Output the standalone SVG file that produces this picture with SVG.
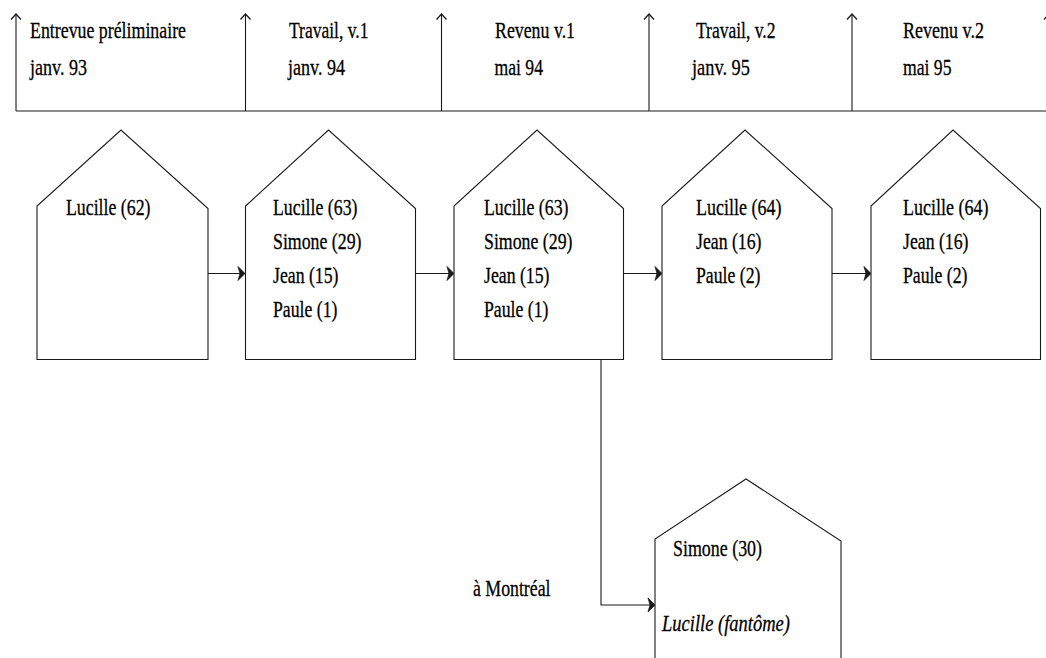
<svg xmlns="http://www.w3.org/2000/svg" width="1046" height="658" viewBox="0 0 1046 658">
<style>
.ln{fill:none;stroke:#1a1a1a;stroke-width:1.1}
.hs{fill:#fff;stroke:#1a1a1a;stroke-width:1.1}
text{font-family:'Liberation Serif','Times New Roman','DejaVu Serif',serif;font-size:24px;fill:#000;stroke:#000;stroke-width:0.3}
.it{font-style:italic}
</style>
<defs>
<marker id="open" viewBox="-10 -10 20 20" refX="0" refY="0" markerWidth="20" markerHeight="20" markerUnits="userSpaceOnUse" orient="auto">
<path d="M-5.5,-5 L0,0 L-5.5,5" fill="none" stroke="#1a1a1a" stroke-width="1.3"/>
</marker>
<marker id="solid" viewBox="-10 -10 20 20" refX="0" refY="0" markerWidth="20" markerHeight="20" markerUnits="userSpaceOnUse" orient="auto">
<path d="M-7,-7 L0,0 L-7,7 L-5,0 z" fill="#1a1a1a" stroke="#1a1a1a" stroke-width="0.8" stroke-linejoin="miter"/>
</marker>
</defs>
<rect width="1046" height="658" fill="#fff"/>
<g id="timeline">
<line class="ln" x1="16" y1="111" x2="1046" y2="111"/>
<line class="ln" x1="16" y1="111" x2="16" y2="14" marker-end="url(#open)"/>
<line class="ln" x1="245.5" y1="111" x2="245.5" y2="14" marker-end="url(#open)"/>
<line class="ln" x1="441.5" y1="111" x2="441.5" y2="14" marker-end="url(#open)"/>
<line class="ln" x1="649" y1="111" x2="649" y2="14" marker-end="url(#open)"/>
<line class="ln" x1="852" y1="111" x2="852" y2="14" marker-end="url(#open)"/>
<line class="ln" x1="1049" y1="111" x2="1049" y2="14" marker-end="url(#open)"/>
<text x="30" y="38" textLength="156" lengthAdjust="spacingAndGlyphs">Entrevue préliminaire</text>
<text x="30" y="75" textLength="57" lengthAdjust="spacingAndGlyphs">janv. 93</text>
<text x="289" y="38" textLength="79.5" lengthAdjust="spacingAndGlyphs">Travail, v.1</text>
<text x="288" y="75" textLength="57" lengthAdjust="spacingAndGlyphs">janv. 94</text>
<text x="495" y="38" textLength="80" lengthAdjust="spacingAndGlyphs">Revenu v.1</text>
<text x="494.5" y="75" textLength="48.5" lengthAdjust="spacingAndGlyphs">mai 94</text>
<text x="696" y="38" textLength="79.5" lengthAdjust="spacingAndGlyphs">Travail, v.2</text>
<text x="692" y="75" textLength="58" lengthAdjust="spacingAndGlyphs">janv. 95</text>
<text x="903" y="38" textLength="81" lengthAdjust="spacingAndGlyphs">Revenu v.2</text>
<text x="903" y="75" textLength="48.5" lengthAdjust="spacingAndGlyphs">mai 95</text>
</g>
<g id="connectors">
<line class="ln" x1="208" y1="273.5" x2="245" y2="273.5" marker-end="url(#solid)"/>
<line class="ln" x1="416" y1="273.5" x2="454" y2="273.5" marker-end="url(#solid)"/>
<line class="ln" x1="623" y1="273.5" x2="662" y2="273.5" marker-end="url(#solid)"/>
<line class="ln" x1="832" y1="273.5" x2="871" y2="273.5" marker-end="url(#solid)"/>
<polyline class="ln" points="601,359.5 601,605 655,605" marker-end="url(#solid)"/>
</g>
<g id="house1">
<polygon class="hs" points="37,359.5 37,206 121,130 208,208.5 208,359.5"/>
<text x="66" y="215" textLength="84.5" lengthAdjust="spacingAndGlyphs">Lucille (62)</text>
</g>
<g id="house2">
<polygon class="hs" points="245.5,359.5 245.5,206 328.5,130 415.5,208.5 415.5,359.5"/>
<text x="273" y="215" textLength="84.5" lengthAdjust="spacingAndGlyphs">Lucille (63)</text>
<text x="273" y="249" textLength="88.5" lengthAdjust="spacingAndGlyphs">Simone (29)</text>
<text x="273" y="283" textLength="65.5" lengthAdjust="spacingAndGlyphs">Jean (15)</text>
<text x="273" y="317" textLength="64.5" lengthAdjust="spacingAndGlyphs">Paule (1)</text>
</g>
<g id="house3">
<polygon class="hs" points="454,359.5 454,206 537,130 623.5,208.5 623.5,359.5"/>
<text x="484" y="215" textLength="84.5" lengthAdjust="spacingAndGlyphs">Lucille (63)</text>
<text x="484" y="249" textLength="88.5" lengthAdjust="spacingAndGlyphs">Simone (29)</text>
<text x="484" y="283" textLength="65.5" lengthAdjust="spacingAndGlyphs">Jean (15)</text>
<text x="484" y="317" textLength="64.5" lengthAdjust="spacingAndGlyphs">Paule (1)</text>
</g>
<g id="house4">
<polygon class="hs" points="662,359.5 662,206 745,130 832,208.5 832,359.5"/>
<text x="696" y="215" textLength="85.5" lengthAdjust="spacingAndGlyphs">Lucille (64)</text>
<text x="696" y="249" textLength="65.5" lengthAdjust="spacingAndGlyphs">Jean (16)</text>
<text x="696" y="283" textLength="64.5" lengthAdjust="spacingAndGlyphs">Paule (2)</text>
</g>
<g id="house5">
<polygon class="hs" points="871,359.5 871,206 953,130 1040.5,208.5 1040.5,359.5"/>
<text x="903" y="215" textLength="85.5" lengthAdjust="spacingAndGlyphs">Lucille (64)</text>
<text x="903" y="249" textLength="65.5" lengthAdjust="spacingAndGlyphs">Jean (16)</text>
<text x="903" y="283" textLength="64.5" lengthAdjust="spacingAndGlyphs">Paule (2)</text>
</g>
<g id="house6">
<polygon class="hs" points="655,680 655,539 746,479 841,541 841,680"/>
<text x="673" y="556" textLength="89" lengthAdjust="spacingAndGlyphs">Simone (30)</text>
<text class="it" x="662" y="631" textLength="128" lengthAdjust="spacingAndGlyphs">Lucille (fantôme)</text>
</g>
<g id="label-montreal">
<text x="473" y="596" textLength="77.5" lengthAdjust="spacingAndGlyphs">à Montréal</text>
</g>
</svg>
